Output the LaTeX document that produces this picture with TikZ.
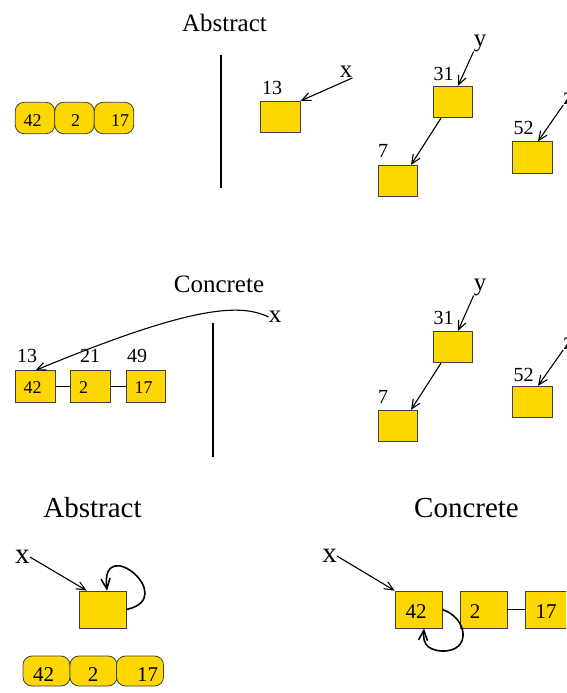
\documentclass[tikz,border=0pt]{standalone}
\usepackage{fontspec}
\setmainfont{Liberation Serif}
\usetikzlibrary{arrows.meta}
\definecolor{cellgold}{RGB}{255,215,0}
\begin{document}
\begin{tikzpicture}[x=1pt,y=-1pt,
  title/.style={font=\fontsize{25}{30}\selectfont, inner sep=0},
  bigtitle/.style={font=\fontsize{29}{34}\selectfont, inner sep=0},
  lab/.style={font=\fontsize{20}{24}\selectfont, inner sep=0},
  var/.style={font=\fontsize{25}{30}\selectfont, inner sep=0},
  bigvar/.style={font=\fontsize{29}{34}\selectfont, inner sep=0},
  val/.style={font=\fontsize{18}{22}\selectfont, inner sep=0},
  bigval/.style={font=\fontsize{21}{25}\selectfont, inner sep=0},
  cell/.style={draw=black!75, fill=cellgold, line width=0.8pt, inner sep=0,
               minimum width=39.5pt, minimum height=31.5pt},
  bigcell/.style={cell, minimum width=47pt, minimum height=37pt},
  pill/.style={cell, rounded corners=9pt},
  bigpill/.style={pill, minimum width=47pt, minimum height=30pt},
  ptr/.style={line width=1.1pt, -{Straight Barb[length=9pt,width=8pt]}},
  loopptr/.style={line width=1.6pt, -{Straight Barb[length=10pt,width=9pt]}},
  divider/.style={line width=1.2pt},
  link/.style={line width=1pt}
]
\useasboundingbox (0,0) rectangle (566,693);
\clip (0,0) rectangle (566,693);

% ---------- abstract view (top) ----------
\node[title] (tA) at (224.5,22.5) {Abstract};
\node[pill] (pa1) at (35,118) {};
\node[pill] (pa2) at (74.5,118) {};
\node[pill] (pa3) at (114,118) {};
\node[val] (va1) at (32.5,121) {42};
\node[val] (va2) at (75.5,121) {2};
\node[val] (va3) at (120,121) {17};

\coordinate (dAtop) at (221,55);
\coordinate (dAbot) at (221,188);
\draw[divider] (dAtop) -- (dAbot);

\node[cell] (t13) at (280.5,117) {};
\node[lab] (l13) at (272,88) {13};
\node[var] (xA) at (346,72) {x};
\draw[ptr] (xA.south east) -- (t13.north east);

\node[cell] (t31) at (453,102) {};
\node[lab] (l31) at (443.5,74) {31};
\node[cell] (t7) at (398,181) {};
\node[lab] (l7) at (383,151) {7};
\node[cell] (t52) at (532.5,157.5) {};
\node[lab] (l52) at (523.5,128) {52};
\node[var] (yA) at (480,43) {y};
\node[var] (zA) at (569,99) {z};
\draw[ptr] (yA.south west) -- ([xshift=5pt]t31.north);
\draw[ptr] ([xshift=-12pt]t31.south) -- ([xshift=13pt]t7.north);
\draw[ptr] (zA.south west) -- ([xshift=5.5pt]t52.north);

% ---------- concrete view (middle) ----------
\node[title] (tC) at (219,284) {Concrete};
\node[cell] (m42) at (35.5,386.5) {};
\node[cell] (m2) at (90.5,386.5) {};
\node[cell] (m17) at (146,386.5) {};
\draw[link] (m42.east) -- (m2.west);
\draw[link] (m2.east) -- (m17.west);
\node[val] (vm1) at (32.5,388) {42};
\node[val] (vm2) at (83.5,388) {2};
\node[val] (vm3) at (143.5,388) {17};
\node[lab] (lm1) at (27,356) {13};
\node[lab] (lm2) at (90,356) {21};
\node[lab] (lm3) at (137,356) {49};

\node[var] (xM) at (275,317) {x};
\draw[ptr] (xM.west) .. controls (240,303) and (190,306) .. (m42.north);

\coordinate (dMtop) at (213,323);
\coordinate (dMbot) at (213,457);
\draw[divider] (dMtop) -- (dMbot);

\node[cell] (u31) at (453,347) {};
\node[lab] (k31) at (443.5,317.5) {31};
\node[cell] (u7) at (398,426) {};
\node[lab] (k7) at (383,397) {7};
\node[cell] (u52) at (532.5,402) {};
\node[lab] (k52) at (523.5,375) {52};
\node[var] (yM) at (480,287) {y};
\node[var] (zM) at (569,344) {z};
\draw[ptr] (yM.south west) -- ([xshift=5pt]u31.north);
\draw[ptr] ([xshift=-12pt]u31.south) -- ([xshift=13pt]u7.north);
\draw[ptr] (zM.south west) -- ([xshift=5.5pt]u52.north);

% ---------- cyclic list, abstract (bottom left) ----------
\node[bigtitle] (tB) at (92.5,508) {Abstract};
\node[bigvar] (xB) at (22.5,557) {x};
\node[bigcell] (bA) at (102.5,609.5) {};
\draw[ptr] (xB.east) -- ([xshift=8pt]bA.north west);
\draw[loopptr] (bA.east) .. controls (180,598) and (100,532) .. ([xshift=4.5pt]bA.north);

\node[bigpill] (q1) at (46.5,671) {};
\node[bigpill] (q2) at (93.5,671) {};
\node[bigpill] (q3) at (140,671) {};
\node[bigval] (vq1) at (43.5,675) {42};
\node[bigval] (vq2) at (93,675) {2};
\node[bigval] (vq3) at (147.5,675) {17};

% ---------- cyclic list, concrete (bottom right) ----------
\node[bigtitle] (tD) at (466.5,508) {Concrete};
\node[bigvar] (xD) at (329.5,556) {x};
\node[bigcell] (c42) at (418.5,609.5) {};
\node[bigcell] (c2) at (483.5,609.5) {};
\node[bigcell] (c17) at (548.5,609.5) {};
\draw[link] (c2.east) -- (c17.west);
\node[bigval] (vc1) at (416,611.5) {42};
\node[bigval] (vc2) at (475,611.5) {2};
\node[bigval] (vc3) at (546,611.5) {17};
\draw[ptr] (xD.east) -- (c42.north west);
\draw[loopptr] (c42.east) .. controls (468,618) and (472,652) .. (442,651)
               .. controls (424,650) and (423,640) .. ([xshift=5.5pt]c42.south);
\end{tikzpicture}
\end{document}
